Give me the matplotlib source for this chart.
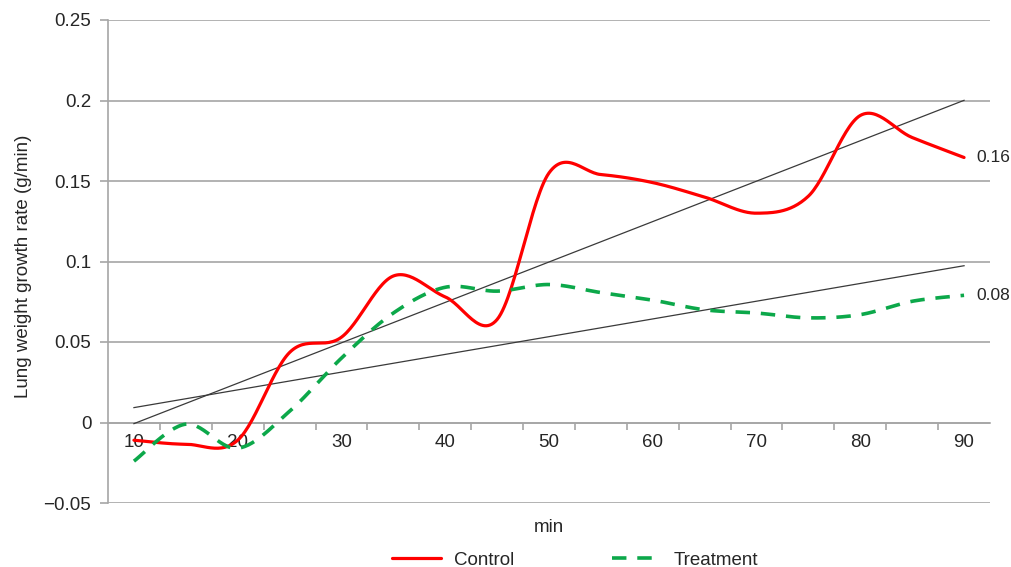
import numpy as np
import matplotlib
matplotlib.use("Agg")
import matplotlib.pyplot as plt
from matplotlib.ticker import FixedLocator

# ---- data ----
minutes = [10, 15, 20, 25, 30, 35, 40, 45, 50, 55, 60, 65, 70, 75, 80, 85, 90]
control = [-0.011, -0.0135, -0.011, 0.0435, 0.053, 0.091, 0.078, 0.064, 0.155,
           0.154, 0.149, 0.140, 0.130, 0.1406, 0.1907, 0.177, 0.1646]
treatment = [-0.024, -0.001, -0.016, 0.007, 0.040, 0.068, 0.084, 0.0816, 0.0857,
             0.0807, 0.076, 0.070, 0.068, 0.065, 0.067, 0.0753, 0.079]
x_labels = ["10", "20", "30", "40", "50", "60", "70", "80", "90"]
x_label_pos = [10, 20, 30, 40, 50, 60, 70, 80, 90]
end_labels = ["0.16", "0.08"]
y_ticks = [-0.05, 0, 0.05, 0.1, 0.15, 0.2, 0.25]
y_tick_labels = ["\u22120.05", "0", "0.05", "0.1", "0.15", "0.2", "0.25"]


def smooth(x, y, n=30):
    """Catmull-Rom (Excel-like) smoothing through the points."""
    x = np.asarray(x, float)
    y = np.asarray(y, float)
    px = np.concatenate([[x[0]], x, [x[-1]]])
    py = np.concatenate([[y[0]], y, [y[-1]]])
    xs, ys = [], []
    t = np.linspace(0, 1, n)
    for i in range(1, len(px) - 2):
        p0, p1, p2, p3 = (np.array([px[j], py[j]]) for j in (i - 1, i, i + 1, i + 2))
        c1 = p1 + (p2 - p0) / 6.0
        c2 = p2 - (p3 - p1) / 6.0
        b = ((1 - t) ** 3)[:, None] * p1 + (3 * (1 - t) ** 2 * t)[:, None] * c1 \
            + (3 * (1 - t) * t ** 2)[:, None] * c2 + (t ** 3)[:, None] * p2
        xs.append(b[:, 0])
        ys.append(b[:, 1])
    return np.concatenate(xs), np.concatenate(ys)


plt.rcParams['font.family'] = ['Liberation Sans', 'DejaVu Sans']
text_col = '#262626'
grid_col = '#a6a6a6'
fs = 13.5

fig = plt.figure(figsize=(10.11, 5.67), dpi=100)
ax = fig.add_axes([108 / 1011, 1 - 503 / 567, (990 - 108) / 1011, (503 - 20) / 567])

ax.set_xlim(7.5, 92.5)
ax.set_ylim(-0.05, 0.25)

# gridlines
ax.set_yticks(y_ticks)
ax.set_yticklabels(y_tick_labels)
ax.yaxis.grid(True, color=grid_col, linewidth=1.2)
ax.set_axisbelow(True)

for s in ['top', 'right']:
    ax.spines[s].set_visible(False)
ax.spines['left'].set_color(grid_col)
ax.spines['left'].set_linewidth(1.2)
ax.spines['bottom'].set_position(('data', 0))
ax.spines['bottom'].set_color(grid_col)
ax.spines['bottom'].set_linewidth(1.2)

ax.xaxis.set_major_locator(FixedLocator(x_label_pos))
ax.set_xticklabels(x_labels)
ax.xaxis.set_minor_locator(FixedLocator(np.arange(12.5, 90, 5)))
ax.tick_params(axis='x', which='major', length=0, pad=8, labelsize=fs, labelcolor=text_col)
ax.tick_params(axis='x', which='minor', length=5, width=1.2, color=grid_col, direction='out')
ax.tick_params(axis='y', length=6, width=1.2, color=grid_col, pad=6, labelsize=fs,
               labelcolor=text_col)

# smoothed series
cx, cy = smooth(minutes, control)
tx, ty = smooth(minutes, treatment)
ax.plot(cx, cy, color='#ff0000', linewidth=2.3, label='Control', zorder=4,
        solid_capstyle='round')
ax.plot(tx, ty, color='#0ca84a', linewidth=2.6, linestyle=(0, (4, 3)),
        label='Treatment', zorder=4)

# linear trend lines (fit on category index, Excel-style)
idx = np.arange(1, len(minutes) + 1)
for series in (control, treatment):
    k, b = np.polyfit(idx, series, 1)
    ax.plot([minutes[0], minutes[-1]], [k * idx[0] + b, k * idx[-1] + b],
            color='#3a3a3a', linewidth=0.9, zorder=3)

# end labels
ax.text(minutes[-1] + 1.2, control[-1], end_labels[0], fontsize=12.5, color=text_col,
        va='center', ha='left', clip_on=False)
ax.text(minutes[-1] + 1.2, treatment[-1], end_labels[1], fontsize=12.5, color=text_col,
        va='center', ha='left', clip_on=False)

ax.set_ylabel("Lung weight growth rate (g/min)", fontsize=fs, color=text_col)
ax.yaxis.set_label_coords(-76 / 882, 0.49)

fig.text(549 / 1011, 1 - 527 / 567, "min", fontsize=fs, color=text_col,
         ha='center', va='center')

fig.legend(loc='center', bbox_to_anchor=(575 / 1011, 1 - 560 / 567), ncol=2,
           frameon=False, fontsize=fs, handlelength=2.6, handletextpad=0.7,
           columnspacing=5.2, labelcolor=text_col)

fig.savefig("out.png", dpi=100)
